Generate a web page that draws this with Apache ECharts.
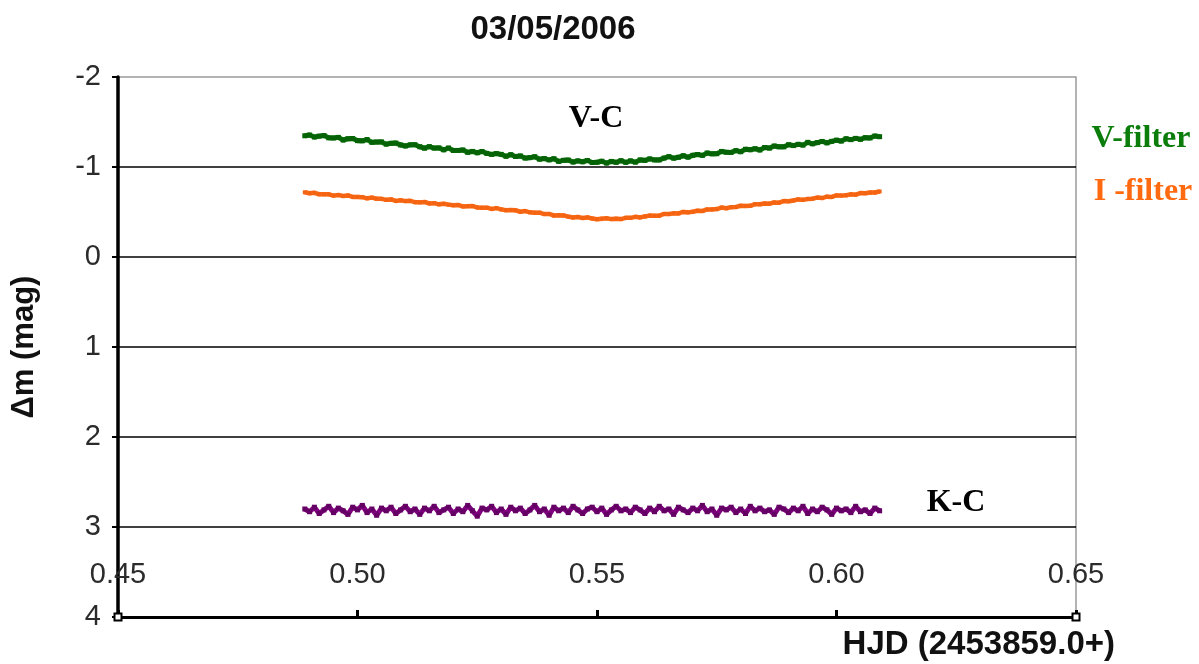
<!DOCTYPE html>
<html>
<head>
<meta charset="utf-8">
<script src="https://cdn.jsdelivr.net/npm/echarts@6/dist/echarts.min.js"></script>
<style>
  html, body { margin: 0; padding: 0; background: #ffffff; }
  #chart { width: 1199px; height: 664px; }
</style>
</head>
<body>
<div id="chart"></div>
<script>
// Light curves of 03/05/2006: V and I differential magnitudes (V-C) and the check star (K-C)
const hjd = [
  0.489, 0.490, 0.491, 0.492, 0.493, 0.494, 0.495, 0.496, 0.497, 0.498,
  0.499, 0.500, 0.501, 0.502, 0.503, 0.504, 0.505, 0.506, 0.507, 0.508,
  0.509, 0.510, 0.511, 0.512, 0.513, 0.514, 0.515, 0.516, 0.517, 0.518,
  0.519, 0.520, 0.521, 0.522, 0.523, 0.524, 0.525, 0.526, 0.527, 0.528,
  0.529, 0.530, 0.531, 0.532, 0.533, 0.534, 0.535, 0.536, 0.537, 0.538,
  0.539, 0.540, 0.541, 0.542, 0.543, 0.544, 0.545, 0.546, 0.547, 0.548,
  0.549, 0.550, 0.551, 0.552, 0.553, 0.554, 0.555, 0.556, 0.557, 0.558,
  0.559, 0.560, 0.561, 0.562, 0.563, 0.564, 0.565, 0.566, 0.567, 0.568,
  0.569, 0.570, 0.571, 0.572, 0.573, 0.574, 0.575, 0.576, 0.577, 0.578,
  0.579, 0.580, 0.581, 0.582, 0.583, 0.584, 0.585, 0.586, 0.587, 0.588,
  0.589, 0.590, 0.591, 0.592, 0.593, 0.594, 0.595, 0.596, 0.597, 0.598,
  0.599, 0.600, 0.601, 0.602, 0.603, 0.604, 0.605, 0.606, 0.607, 0.608,
  0.609
];

const vFilter = [
  -1.347, -1.355, -1.333, -1.343, -1.349, -1.324, -1.323, -1.329, -1.300, -1.314,
  -1.316, -1.293, -1.291, -1.305, -1.274, -1.277, -1.279, -1.254, -1.263, -1.266,
  -1.245, -1.234, -1.246, -1.247, -1.225, -1.209, -1.226, -1.210, -1.212, -1.191,
  -1.211, -1.184, -1.184, -1.189, -1.163, -1.173, -1.158, -1.172, -1.151, -1.140,
  -1.149, -1.140, -1.119, -1.137, -1.117, -1.123, -1.099, -1.104, -1.114, -1.087,
  -1.094, -1.079, -1.092, -1.062, -1.074, -1.077, -1.055, -1.068, -1.058, -1.072,
  -1.050, -1.053, -1.064, -1.044, -1.062, -1.052, -1.070, -1.052, -1.068, -1.054,
  -1.079, -1.074, -1.090, -1.079, -1.079, -1.099, -1.115, -1.098, -1.108, -1.125,
  -1.109, -1.130, -1.139, -1.129, -1.155, -1.146, -1.148, -1.173, -1.164, -1.162,
  -1.182, -1.170, -1.197, -1.192, -1.203, -1.189, -1.217, -1.210, -1.233, -1.224,
  -1.224, -1.248, -1.238, -1.252, -1.243, -1.274, -1.258, -1.271, -1.284, -1.268,
  -1.285, -1.298, -1.288, -1.314, -1.304, -1.318, -1.308, -1.326, -1.323, -1.344,
  -1.337
];

const iFilter = [
  -0.719, -0.708, -0.713, -0.697, -0.696, -0.696, -0.682, -0.689, -0.678, -0.684,
  -0.668, -0.668, -0.665, -0.652, -0.660, -0.647, -0.646, -0.635, -0.640, -0.623,
  -0.630, -0.621, -0.624, -0.609, -0.607, -0.611, -0.595, -0.598, -0.585, -0.591,
  -0.582, -0.575, -0.578, -0.562, -0.565, -0.566, -0.551, -0.548, -0.548, -0.534,
  -0.543, -0.529, -0.520, -0.522, -0.519, -0.503, -0.510, -0.496, -0.493, -0.493,
  -0.477, -0.478, -0.461, -0.464, -0.462, -0.449, -0.439, -0.445, -0.434, -0.440,
  -0.428, -0.420, -0.426, -0.430, -0.421, -0.426, -0.421, -0.435, -0.435, -0.446,
  -0.440, -0.451, -0.460, -0.458, -0.459, -0.478, -0.477, -0.485, -0.484, -0.501,
  -0.496, -0.503, -0.514, -0.511, -0.528, -0.529, -0.532, -0.549, -0.542, -0.554,
  -0.555, -0.569, -0.568, -0.569, -0.587, -0.586, -0.595, -0.593, -0.606, -0.604,
  -0.621, -0.619, -0.628, -0.640, -0.635, -0.645, -0.648, -0.660, -0.655, -0.670,
  -0.667, -0.684, -0.682, -0.686, -0.696, -0.693, -0.710, -0.708, -0.716, -0.716,
  -0.728
];

const kCheck = [
  2.80, 2.83, 2.78, 2.85, 2.81, 2.77, 2.84, 2.79, 2.82, 2.86,
  2.78, 2.81, 2.76, 2.84, 2.80, 2.87, 2.79, 2.82, 2.78, 2.85,
  2.81, 2.77, 2.83, 2.80, 2.86, 2.79, 2.82, 2.77, 2.84, 2.81,
  2.78, 2.85, 2.80, 2.83, 2.76, 2.82, 2.88, 2.79, 2.81, 2.77,
  2.84, 2.80, 2.86, 2.78, 2.82, 2.79, 2.85, 2.81, 2.76, 2.83,
  2.80, 2.87, 2.78, 2.82, 2.79, 2.84, 2.77, 2.81, 2.85, 2.80,
  2.78, 2.83, 2.79, 2.86, 2.81, 2.77, 2.82, 2.80, 2.84, 2.78,
  2.81, 2.85, 2.79, 2.83, 2.77, 2.82, 2.80, 2.86, 2.78, 2.81,
  2.84, 2.79, 2.82, 2.76, 2.83, 2.80, 2.87, 2.79, 2.81, 2.78,
  2.84, 2.80, 2.85, 2.77, 2.82, 2.79, 2.83, 2.81, 2.86, 2.78,
  2.80, 2.84, 2.79, 2.82, 2.77, 2.85, 2.80, 2.83, 2.78, 2.81,
  2.86, 2.79, 2.82, 2.80, 2.84, 2.77, 2.83, 2.81, 2.85, 2.79,
  2.82
];

const xTicks = { min: 0.45, max: 0.65, step: 0.05 };
const yTicks = { min: -2, max: 4, step: 1 };

const pairs = (ys) => hjd.map((x, i) => [x, ys[i]]);

const chart = echarts.init(document.getElementById('chart'), null, { renderer: 'canvas' });

const sansTick = { fontFamily: 'Liberation Sans, Arial, sans-serif', fontSize: 29, color: '#2b2b2b' };
const serifNote = { fontFamily: 'Liberation Serif, Times New Roman, serif', fontWeight: 'bold', fontSize: 32 };

chart.setOption({
  animation: false,
  backgroundColor: '#ffffff',
  grid: {
    left: 118, right: 123, top: 77, bottom: 47,
    show: true, borderColor: '#9a9a9a', borderWidth: 1.5, backgroundColor: 'transparent'
  },
  xAxis: {
    type: 'value',
    min: xTicks.min, max: xTicks.max, interval: xTicks.step,
    name: 'HJD (2453859.0+)',
    nameLocation: 'end',
    nameGap: 39,
    nameTextStyle: {
      fontFamily: 'Liberation Sans, Arial, sans-serif', fontWeight: 'bold', fontSize: 33,
      color: '#111', align: 'right', verticalAlign: 'top', padding: [11, 0, 0, 0]
    },
    axisLine: {
      show: true, onZero: false,
      lineStyle: { color: '#000', width: 3 },
      symbol: ['emptyRect', 'emptyRect'], symbolSize: [7, 7]
    },
    axisTick: { show: true, inside: true, length: 7, lineStyle: { color: '#000', width: 3 } },
    axisLabel: {
      inside: true, margin: 28,
      formatter: (v) => v.toFixed(2),
      ...sansTick
    },
    splitLine: { show: false }
  },
  yAxis: {
    type: 'value',
    inverse: true,
    min: yTicks.min, max: yTicks.max, interval: yTicks.step,
    name: 'Δm (mag)',
    nameLocation: 'middle',
    nameGap: 78,
    nameTextStyle: { fontFamily: 'Liberation Sans, Arial, sans-serif', fontWeight: 'bold', fontSize: 31, color: '#111' },
    axisLine: { show: true, lineStyle: { color: '#000', width: 3.5 } },
    axisTick: { show: true, inside: false, length: 6, lineStyle: { color: '#000', width: 2 } },
    axisLabel: { margin: 17, ...sansTick },
    splitLine: {
      show: true, showMinLine: false, showMaxLine: false,
      lineStyle: { color: '#000', width: 1.5 }
    }
  },
  series: [
    {
      name: 'V-filter', type: 'line', data: pairs(vFilter),
      symbol: 'rect', symbolSize: 5, showSymbol: true,
      lineStyle: { color: '#0b7d0b', width: 5 },
      itemStyle: { color: '#066206' }
    },
    {
      name: 'I -filter', type: 'line', data: pairs(iFilter),
      symbol: 'rect', symbolSize: 4, showSymbol: true,
      lineStyle: { color: '#ff6a10', width: 4.5 },
      itemStyle: { color: '#f26414' }
    },
    {
      name: 'K-C', type: 'line', data: pairs(kCheck),
      symbol: 'rect', symbolSize: 5, showSymbol: true,
      lineStyle: { color: '#800080', width: 5 },
      itemStyle: { color: '#640064' }
    }
  ],
  graphic: [
    { type: 'text', x: 553, y: 30, style: { text: '03/05/2006', textAlign: 'center', textVerticalAlign: 'middle',
        fontFamily: 'Liberation Sans, Arial, sans-serif', fontWeight: 'bold', fontSize: 33, fill: '#111' } },
    { type: 'text', x: 596, y: 119, style: { text: 'V-C', textAlign: 'center', textVerticalAlign: 'middle', fill: '#000', ...serifNote } },
    { type: 'text', x: 956, y: 503, style: { text: 'K-C', textAlign: 'center', textVerticalAlign: 'middle', fill: '#000', ...serifNote } },
    { type: 'text', x: 1141, y: 139, style: { text: 'V-filter', textAlign: 'center', textVerticalAlign: 'middle', fill: '#0b7d0b', ...serifNote } },
    { type: 'text', x: 1143, y: 192, style: { text: 'I -filter', textAlign: 'center', textVerticalAlign: 'middle', fill: '#ff6a10', ...serifNote } }
  ]
});
</script>
</body>
</html>
